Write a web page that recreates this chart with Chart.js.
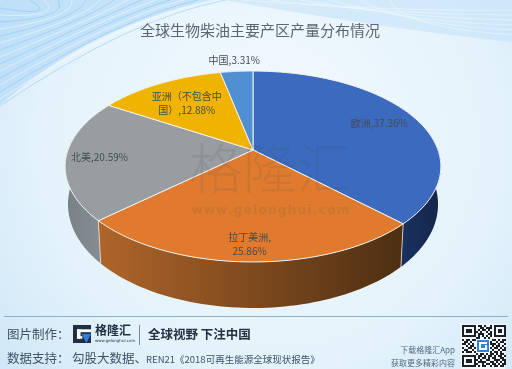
<!DOCTYPE html>
<html>
<head>
<meta charset="utf-8">
<title>全球生物柴油主要产区产量分布情况</title>
<script src="https://cdn.jsdelivr.net/npm/chart.js@4"></script>
<style>
  html, body { margin: 0; padding: 0; background: #e4f2fb; }
  #wrap { width: 512px; height: 369px; overflow: hidden; }
  canvas { display: block; filter: blur(0.35px); }
</style>
</head>
<body>
<div id="wrap"><canvas id="pieChart" width="512" height="369"></canvas></div>
<script>
const regions = ['欧洲', '拉丁美洲', '北美', '亚洲（不包含中国）', '中国'];
const shares = [37.36, 25.86, 20.59, 12.88, 3.31];
const topColors = ['#3b6abf', '#df7a2e', '#989da1', '#f0b400', '#5090d2'];
const sideLeft = ['#1a305e', '#b0652a', '#7a8288', '#a07800', '#2f5f90'];
const sideRight = ['#14274c', '#4d2f12', '#858c91', '#806000', '#274f78'];
const labelLines = [
  ['欧洲,37.36%'],
  ['拉丁美洲,', '25.86%'],
  ['北美,20.59%'],
  ['亚洲（不包含中', '国）,12.88%'],
  ['中国,3.31%']
];

const FONT = '"Noto Sans CJK SC", "Noto Sans", sans-serif';

// perspective of the disc, fitted on the picture
const disc = { cx: 253, cy: 150, a: 185, b: 92.6, k: -0.173, shrink: 0.985 };

function project(clock) {
  const u = Math.sin(clock);
  const v = -Math.cos(clock);
  const w = 1 + disc.k * v;
  return { x: disc.cx + disc.a * u / w, y: disc.cy + disc.b * v / w };
}

function projectBottom(clock) {
  const p = project(clock);
  const depth = 36 - 10 * Math.cos(clock);
  return { x: disc.cx + (p.x - disc.cx) * disc.shrink, y: p.y + depth };
}

function clockOf(angle) {
  return angle + Math.PI / 2;
}

function drawSides(ctx, arcs) {
  const from = Math.PI / 2;
  const to = Math.PI * 1.5;
  arcs.forEach((arc, i) => {
    const s = Math.max(clockOf(arc.startAngle), from);
    const e = Math.min(clockOf(arc.endAngle), to);
    if (e <= s) return;
    const a = project(s);
    const b = project(e);
    const grad = ctx.createLinearGradient(Math.min(a.x, b.x), 0, Math.max(a.x, b.x), 0);
    grad.addColorStop(0, sideLeft[i]);
    grad.addColorStop(1, sideRight[i]);
    ctx.beginPath();
    const steps = 60;
    for (let n = 0; n <= steps; n++) {
      const p = project(s + (e - s) * n / steps);
      n ? ctx.lineTo(p.x, p.y) : ctx.moveTo(p.x, p.y);
    }
    for (let n = steps; n >= 0; n--) {
      const p = projectBottom(s + (e - s) * n / steps);
      ctx.lineTo(p.x, p.y);
    }
    ctx.closePath();
    ctx.fillStyle = grad;
    ctx.fill();
    // seam between two side walls
    if (s > from) {
      ctx.strokeStyle = 'rgba(235,225,210,0.8)';
      ctx.lineWidth = 1;
      ctx.beginPath();
      ctx.moveTo(a.x, a.y);
      const bottom = projectBottom(s);
      ctx.lineTo(bottom.x, bottom.y);
      ctx.stroke();
    }
  });
}

function drawTop(ctx, arcs) {
  arcs.forEach((arc, i) => {
    const s = clockOf(arc.startAngle);
    const e = clockOf(arc.endAngle);
    ctx.beginPath();
    ctx.moveTo(disc.cx, disc.cy);
    const steps = 80;
    for (let n = 0; n <= steps; n++) {
      const p = project(s + (e - s) * n / steps);
      ctx.lineTo(p.x, p.y);
    }
    ctx.closePath();
    ctx.fillStyle = topColors[i];
    ctx.fill();
    ctx.strokeStyle = '#f0f2ee';
    ctx.lineWidth = 1;
    ctx.lineJoin = 'round';
    ctx.stroke();
  });
}

function drawBackground(ctx) {
  const W = 512, H = 369;
  const bg = ctx.createRadialGradient(270, 130, 30, 270, 150, 400);
  bg.addColorStop(0, '#f1f9fe');
  bg.addColorStop(0.55, '#e3f2fb');
  bg.addColorStop(1, '#c6e2f5');
  ctx.fillStyle = bg;
  ctx.fillRect(0, 0, W, H);

  // streaks, top left
  ctx.beginPath();
  ctx.moveTo(0, 0);
  ctx.lineTo(215, 0);
  ctx.quadraticCurveTo(90, 25, 0, 105);
  ctx.closePath();
  ctx.fillStyle = 'rgba(170,214,247,0.55)';
  ctx.fill();
  ctx.lineWidth = 0.8;
  for (let n = 0; n < 15; n++) {
    ctx.beginPath();
    ctx.moveTo(0, 8 + n * 7);
    ctx.quadraticCurveTo(60 + n * 5, 18, 30 + n * 14, 0);
    ctx.strokeStyle = n % 2 ? 'rgba(255,255,255,0.55)' : 'rgba(130,190,240,0.6)';
    ctx.stroke();
  }
  // streaks, top right
  ctx.beginPath();
  ctx.moveTo(225, 0);
  ctx.quadraticCurveTo(380, 28, 512, 42);
  ctx.lineTo(512, 0);
  ctx.closePath();
  ctx.fillStyle = 'rgba(190,224,248,0.5)';
  ctx.fill();
  for (let n = 0; n < 6; n++) {
    ctx.beginPath();
    ctx.moveTo(240 + n * 30, 0);
    ctx.quadraticCurveTo(400, 12 + n * 3, 512, 10 + n * 5);
    ctx.strokeStyle = 'rgba(255,255,255,0.5)';
    ctx.stroke();
  }
}

function drawLabels(ctx, arcs) {
  // how far each label sits from the centre, as a share of the rim
  const spots = [0.79, 0.84, 0.82, 0.71, 1.14];
  ctx.fillStyle = '#454c50';
  ctx.font = '10px ' + FONT;
  ctx.textAlign = 'center';
  ctx.textBaseline = 'middle';
  arcs.forEach((arc, i) => {
    const p = project(clockOf((arc.startAngle + arc.endAngle) / 2));
    const x = disc.cx + (p.x - disc.cx) * spots[i];
    const y = disc.cy + (p.y - disc.cy) * spots[i];
    const lines = labelLines[i];
    lines.forEach((line, n) => {
      ctx.fillText(line, x, y + (n - (lines.length - 1) / 2) * 14);
    });
  });
}

function drawWatermark(ctx) {
  ctx.save();
  ctx.textAlign = 'center';
  ctx.textBaseline = 'middle';
  ctx.fillStyle = 'rgba(70,70,70,0.12)';
  ctx.font = '200 54px ' + FONT;
  ctx.letterSpacing = '0px';
  ctx.fillText('格隆汇', 270, 168);
  ctx.font = 'bold 12px "DejaVu Sans", sans-serif';
  ctx.letterSpacing = '1.3px';
  ctx.fillText('www.gelonghui.com', 271, 211);
  ctx.restore();
}

const qrRows = [
  '1111111011010010111111',
  '1000001001101110100001',
  '1011101010110100101101',
  '1011101101001010101101',
  '1000001011100110100001',
  '1111111010101010111111',
  '0000000110010100000000',
  '1011011101101001101011',
  '0110100110110110010110',
  '1101010011001011101001',
  '0010110100110101011010',
  '1001101011010010110101',
  '0110010101101101001011',
  '1011101010010110110100',
  '0000000101101011010110',
  '1111111011010110101101',
  '1000001010110101100110',
  '1011101101001100111011',
  '1011101011110011010101',
  '1000001100101101101011',
  '1111111010110010110110'
];

function drawG(ctx, x, y, s) {
  ctx.fillStyle = '#1f2f42';
  ctx.fillRect(x, y, s, s);
  ctx.fillStyle = '#ffffff';
  ctx.fillRect(x + s * 0.22, y + s * 0.24, s * 0.78, s * 0.16);
  ctx.fillRect(x + s * 0.22, y + s * 0.24, s * 0.2, s * 0.52);
  ctx.fillRect(x + s * 0.22, y + s * 0.62, s * 0.3, s * 0.14);
  ctx.fillStyle = '#2f7fd6';
  ctx.beginPath();
  ctx.moveTo(x + s * 0.48, y + s * 0.5);
  ctx.lineTo(x + s, y + s * 0.5);
  ctx.lineTo(x + s * 0.74, y + s);
  ctx.closePath();
  ctx.fill();
}

function drawFooter(ctx) {
  ctx.textBaseline = 'middle';
  ctx.textAlign = 'left';
  ctx.strokeStyle = '#8db2c8';
  ctx.lineWidth = 1;
  ctx.beginPath();
  ctx.moveTo(4, 316.5);
  ctx.lineTo(508, 316.5);
  ctx.stroke();

  ctx.fillStyle = '#3f5366';
  ctx.font = '12.5px ' + FONT;
  ctx.fillText('图片制作：', 7, 334);
  ctx.fillText('数据支持：', 7, 358);
  ctx.fillText('勾股大数据、', 72, 358);
  ctx.font = '9.5px ' + FONT;
  ctx.fillText('REN21《2018可再生能源全球现状报告》', 146, 359);

  drawG(ctx, 73, 325, 18);
  ctx.fillStyle = '#1f2f42';
  ctx.font = 'bold 12px ' + FONT;
  ctx.fillText('格隆汇', 95, 330);
  ctx.font = '4px "DejaVu Sans", sans-serif';
  ctx.fillText('www.gelonghui.com', 95, 341);
  ctx.fillStyle = '#7c8a96';
  ctx.fillRect(139, 325, 1, 20);
  ctx.fillStyle = '#22303f';
  ctx.font = 'bold 12.5px ' + FONT;
  ctx.fillText('全球视野 下注中国', 148, 334);

  ctx.fillStyle = '#4f6a82';
  ctx.font = '8px ' + FONT;
  ctx.textAlign = 'right';
  ctx.fillText('下载格隆汇App', 455, 350);
  ctx.fillText('获取更多精彩内容', 455, 363);

  // qr block
  ctx.fillStyle = '#f4f7f8';
  ctx.fillRect(461, 324, 44, 45);
  const cell = 2;
  ctx.fillStyle = '#1b2026';
  qrRows.forEach((row, r) => {
    [...row].forEach((c, n) => {
      if (c === '1') ctx.fillRect(462 + n * cell, 325 + r * cell, cell, cell);
    });
  });
  ctx.fillStyle = '#ffffff';
  ctx.fillRect(476, 339, 14, 14);
  ctx.fillStyle = '#2d7fe0';
  ctx.fillRect(477, 340, 12, 12);
  ctx.fillStyle = '#ffffff';
  ctx.fillRect(479, 342, 8, 2);
  ctx.fillRect(479, 342, 2, 8);
  ctx.fillRect(479, 348, 8, 2);
  ctx.fillRect(485, 345, 2, 5);
}

const pie3d = {
  id: 'pie3d',
  beforeDraw(chart) {
    drawBackground(chart.ctx);
  },
  beforeDatasetDraw(chart) {
    const ctx = chart.ctx;
    const arcs = chart.getDatasetMeta(0).data;
    ctx.save();
    drawSides(ctx, arcs);
    drawTop(ctx, arcs);
    ctx.restore();
    return false; // the flat arcs stay undrawn
  },
  afterDraw(chart) {
    const ctx = chart.ctx;
    const arcs = chart.getDatasetMeta(0).data;
    ctx.save();
    drawWatermark(ctx);
    drawLabels(ctx, arcs);
    drawFooter(ctx);
    ctx.restore();
  }
};

new Chart(document.getElementById('pieChart').getContext('2d'), {
  type: 'pie',
  data: {
    labels: regions,
    datasets: [{ data: shares, backgroundColor: topColors }]
  },
  options: {
    responsive: false,
    animation: false,
    layout: { padding: { left: 8 } },
    plugins: {
      legend: { display: false },
      tooltip: { enabled: false },
      title: {
        display: true,
        text: '全球生物柴油主要产区产量分布情况',
        color: '#5c666e',
        font: { family: FONT, size: 15, weight: 'normal' },
        padding: { top: 21, bottom: 6 }
      }
    }
  },
  plugins: [pie3d]
});
</script>
</body>
</html>
